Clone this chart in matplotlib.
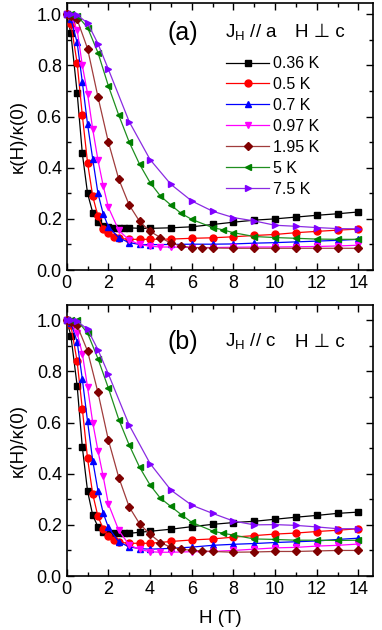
import matplotlib
matplotlib.use('Agg')
import matplotlib.pyplot as plt
from matplotlib.ticker import MultipleLocator

plt.rcParams['font.family'] = ['Liberation Sans', 'DejaVu Sans']
plt.rcParams['mathtext.fontset'] = 'custom'
plt.rcParams['mathtext.rm'] = 'Liberation Sans'

# field grids (T)
h_black = [0, 0.2, 0.5, 0.75, 1, 1.25, 1.5, 1.75, 2, 2.25, 2.5, 2.75, 3, 3.5, 4,
           5, 6, 7, 8, 9, 10, 11, 12, 13, 14]
h_red = [0, 0.2, 0.5, 0.75, 1, 1.25, 1.5, 1.75, 2, 2.25, 2.5, 3, 3.5, 4,
         5, 6, 7, 8, 9, 10, 11, 12, 13, 14]
h_blue = [0, 0.2, 0.5, 0.75, 1, 1.25, 1.5, 1.75, 2, 2.5, 3, 3.5, 4,
          5, 6, 7, 8, 9, 10, 11, 12, 13, 14]
h_mag = [0, 0.2, 0.5, 0.75, 1, 1.25, 1.5, 1.75, 2, 2.5, 3, 3.5, 4, 4.5,
         5, 6, 7, 8, 9, 10, 11, 12, 13, 14]
h_brown = [0, 0.2, 0.5, 1, 1.5, 2, 2.5, 3, 3.5, 4, 4.5, 5, 5.5, 6, 6.5,
           7, 8, 9, 10, 11, 12, 13, 14]
h_green = [0, 0.2, 0.5, 1, 1.5, 2, 2.5, 3, 3.5, 4, 4.5, 5, 5.5, 6, 7, 7.5,
           8, 9, 10, 11, 12, 13, 14]
h_purple = [0, 0.2, 0.5, 1, 1.5, 2, 3, 4, 5, 6, 7, 8, 9, 10, 11, 12, 13, 14]

# panel (a): J_H // a
black_a = [1.0, 0.925, 0.694, 0.456, 0.30, 0.224, 0.189, 0.172, 0.167, 0.165, 0.165,
           0.165, 0.165, 0.163, 0.163, 0.165, 0.169, 0.178, 0.187, 0.195, 0.2,
           0.207, 0.214, 0.22, 0.227]
red_a = [1.0, 0.963, 0.81, 0.605, 0.42, 0.288, 0.21, 0.16, 0.143, 0.13, 0.124, 0.12,
         0.12, 0.12, 0.121, 0.124, 0.126, 0.13, 0.135, 0.139, 0.146, 0.151, 0.156, 0.16]
blue_a = [1.0, 0.98, 0.89, 0.735, 0.57, 0.434, 0.30, 0.22, 0.17, 0.126, 0.107, 0.1,
          0.099, 0.1, 0.101, 0.101, 0.102, 0.105, 0.107, 0.11, 0.113, 0.116, 0.12]
mag_a = [1.0, 0.99, 0.94, 0.80, 0.69, 0.55, 0.43, 0.33, 0.245, 0.155, 0.117, 0.1,
         0.093, 0.09, 0.09, 0.088, 0.088, 0.089, 0.09, 0.09, 0.091, 0.092, 0.094, 0.097]
brown_a = [1.0, 0.995, 0.98, 0.866, 0.677, 0.5, 0.355, 0.254, 0.19, 0.151, 0.127,
           0.105, 0.094, 0.088, 0.087, 0.086, 0.085, 0.085, 0.085, 0.085, 0.085,
           0.085, 0.085]
green_a = [1.0, 1.0, 0.995, 0.948, 0.85, 0.72, 0.605, 0.5, 0.413, 0.342, 0.289, 0.254,
           0.221, 0.198, 0.166, 0.157, 0.146, 0.131, 0.127, 0.124, 0.121, 0.12, 0.12]
purple_a = [1.0, 1.0, 0.997, 0.966, 0.885, 0.785, 0.58, 0.432, 0.335, 0.27, 0.23,
            0.205, 0.192, 0.175, 0.171, 0.166, 0.162, 0.161]

# panel (b): J_H // c
black_b = [1.0, 0.94, 0.745, 0.504, 0.333, 0.237, 0.193, 0.174, 0.17, 0.167, 0.167,
           0.167, 0.167, 0.171, 0.175, 0.183, 0.193, 0.202, 0.209, 0.214, 0.222,
           0.23, 0.237, 0.245, 0.25]
red_b = [1.0, 0.98, 0.84, 0.654, 0.46, 0.32, 0.233, 0.185, 0.155, 0.14, 0.132, 0.128,
         0.128, 0.128, 0.135, 0.141, 0.145, 0.152, 0.158, 0.164, 0.168, 0.174, 0.179, 0.185]
blue_b = [1.0, 0.99, 0.917, 0.77, 0.605, 0.451, 0.334, 0.247, 0.19, 0.133, 0.114,
          0.107, 0.105, 0.108, 0.113, 0.12, 0.124, 0.127, 0.131, 0.134, 0.137, 0.143, 0.148]
mag_b = [1.0, 0.99, 0.95, 0.87, 0.739, 0.6, 0.49, 0.39, 0.282, 0.178, 0.121, 0.104,
         0.095, 0.093, 0.093, 0.095, 0.096, 0.1, 0.105, 0.11, 0.112, 0.117, 0.12, 0.125]
brown_b = [1.0, 0.995, 0.98, 0.88, 0.718, 0.532, 0.385, 0.27, 0.204, 0.163, 0.131,
           0.112, 0.105, 0.1, 0.098, 0.096, 0.093, 0.094, 0.096, 0.096, 0.098, 0.1, 0.1]
green_b = [1.0, 1.0, 1.0, 0.95, 0.85, 0.735, 0.612, 0.512, 0.425, 0.356, 0.304, 0.272,
           0.24, 0.21, 0.176, 0.167, 0.16, 0.145, 0.143, 0.14, 0.14, 0.139, 0.14]
purple_b = [1.0, 1.0, 0.997, 0.965, 0.885, 0.79, 0.59, 0.44, 0.336, 0.277, 0.245,
            0.215, 0.2, 0.201, 0.198, 0.192, 0.185, 0.185]

labels = ['0.36 K', '0.5 K', '0.7 K', '0.97 K', '1.95 K', '5 K', '7.5 K']
markers = ['s', 'o', '^', 'v', 'D', '<', '>']
line_colors = ['black', '#ff0000', '#0000ff', '#ff00ff', '#a03c3c', '#1f8f1f', '#8a2be2']
face_colors = ['black', '#ff0000', '#0000ff', '#ff00ff', '#800000', '#008000', '#8000ff']
grids = [h_black, h_red, h_blue, h_mag, h_brown, h_green, h_purple]


def draw_panel(ax, series, ytop, tag, jtext, ty):
    for h, v, lab, m, lc, fc in zip(grids, series, labels, markers, line_colors, face_colors):
        ms = 4.2 if m == 'D' else 5
        ax.plot(h, v, color=lc, lw=0.9, marker=m, ms=ms, mfc=fc, mec=fc,
                label=lab, clip_on=False, zorder=3)
    ax.set_xlim(0, 14.7)
    ax.set_ylim(0, ytop)
    ax.xaxis.set_major_locator(MultipleLocator(2))
    ax.xaxis.set_minor_locator(MultipleLocator(1))
    ax.yaxis.set_minor_locator(MultipleLocator(0.1))
    ax.tick_params(which='both', direction='in', top=True, right=True,
                   labelsize=13, width=1.0)
    ax.tick_params(which='major', length=5)
    ax.tick_params(which='minor', length=3)
    ax.set_yticks([0, 0.2, 0.4, 0.6, 0.8, 1.0])
    ax.set_yticklabels(['0.0', '0.2', '0.4', '0.6', '0.8', '1.0'])
    for sp in ax.spines.values():
        sp.set_linewidth(1.2)
    ax.set_ylabel(u'\u03ba(H)/\u03ba(0)', fontsize=13.5, labelpad=7)
    ax.text(0.328, ty, tag, transform=ax.transAxes, fontsize=18, va='center')
    ax.text(0.517, ty, jtext, transform=ax.transAxes, fontsize=13.5, va='center')
    ax.text(0.746, ty, u'H \u22a5 c', transform=ax.transAxes, fontsize=13.5,
            va='center', family=['Liberation Sans', 'DejaVu Sans'])


fig = plt.figure(figsize=(3.82, 6.30), dpi=100)
ax1 = fig.add_axes([0.1746, 0.5714, 0.8019, 0.4238])
ax2 = fig.add_axes([0.1746, 0.0857, 0.8019, 0.4302])

draw_panel(ax1, [black_a, red_a, blue_a, mag_a, brown_a, green_a, purple_a],
           1.044, '(a)', 'J$_{\\mathrm{H}}$ // a', 0.888)
draw_panel(ax2, [black_b, red_b, blue_b, mag_b, brown_b, green_b, purple_b],
           1.06, '(b)', 'J$_{\\mathrm{H}}$ // c', 0.863)

ax1.legend(loc='upper left', bbox_to_anchor=(0.50, 0.825), frameon=False,
           fontsize=11.5, handlelength=2.7, handletextpad=0.2,
           labelspacing=0.37, borderaxespad=0)
ax2.set_xlabel('H (T)', fontsize=13.5, labelpad=9)

fig.savefig('out.png', dpi=100)
